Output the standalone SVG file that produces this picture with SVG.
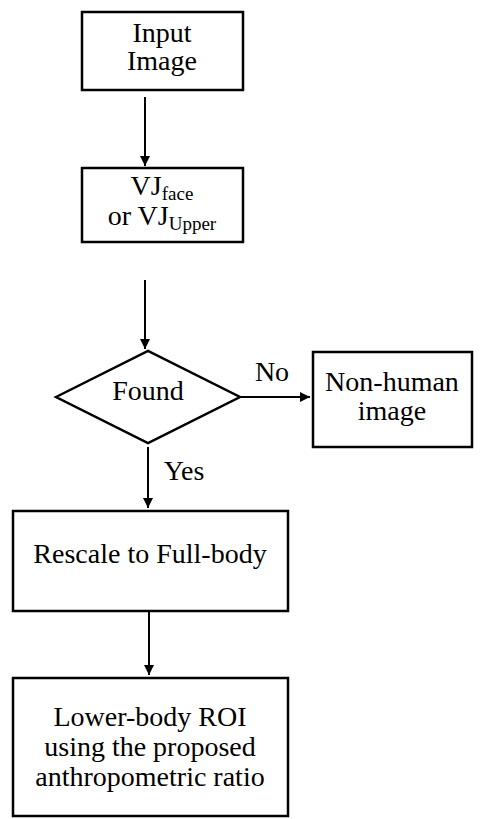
<svg xmlns="http://www.w3.org/2000/svg" width="480" height="819" viewBox="0 0 480 819">
<defs>
<marker id="ah" viewBox="0 0 10 10" refX="10" refY="5" markerWidth="5" markerHeight="5" orient="auto" markerUnits="strokeWidth">
<path d="M0,0 L10,5 L0,10 z" fill="#000"/>
</marker>
<style>
.box{fill:#fff;stroke:#000;stroke-width:2.5}
svg .t{font-family:"Liberation Serif","Times New Roman",serif !important;font-size:28px;fill:#000;text-anchor:middle}
svg .t .s{font-size:19px}
.c{stroke:#000;stroke-width:2;fill:none;marker-end:url(#ah)}
</style>
</defs>
<rect width="480" height="819" fill="#fff"/>
<g id="connectors">
<line class="c" x1="145" y1="97" x2="145" y2="166"/>
<line class="c" x1="145" y1="280" x2="145" y2="349"/>
<line class="c" x1="240" y1="397" x2="310" y2="397"/>
<line class="c" x1="148" y1="447" x2="148" y2="508"/>
<line class="c" x1="149" y1="612" x2="149" y2="675"/>
<text class="t" font-family="Liberation Serif" x="272" y="381">No</text>
<text class="t" font-family="Liberation Serif" x="184" y="480">Yes</text>
</g>
<g id="input">
<rect class="box" x="82" y="12" width="161" height="78"/>
<text class="t" font-family="Liberation Serif" x="162" y="42">Input</text>
<text class="t" font-family="Liberation Serif" x="162" y="70">Image</text>
</g>
<g id="vj">
<rect class="box" x="82" y="168" width="161" height="74"/>
<text class="t" font-family="Liberation Serif" x="162" y="195">VJ<tspan class="s" dy="5">face</tspan></text>
<text class="t" font-family="Liberation Serif" x="162" y="225">or VJ<tspan class="s" dy="5">Upper</tspan></text>
</g>
<g id="found">
<polygon class="box" points="56,397 148,351 240,397 148,443"/>
<text class="t" font-family="Liberation Serif" x="148" y="400">Found</text>
</g>
<g id="nonhuman">
<rect class="box" x="313" y="352" width="159" height="95"/>
<text class="t" font-family="Liberation Serif" x="392" y="391">Non-human</text>
<text class="t" font-family="Liberation Serif" x="392" y="420">image</text>
</g>
<g id="rescale">
<rect class="box" x="13" y="511" width="275" height="100"/>
<text class="t" font-family="Liberation Serif" x="150" y="563">Rescale to Full-body</text>
</g>
<g id="lower">
<rect class="box" x="13" y="678" width="275" height="138"/>
<text class="t" font-family="Liberation Serif" x="150" y="726">Lower-body ROI</text>
<text class="t" font-family="Liberation Serif" x="150" y="756">using the proposed</text>
<text class="t" font-family="Liberation Serif" x="150" y="786">anthropometric ratio</text>
</g>
</svg>
